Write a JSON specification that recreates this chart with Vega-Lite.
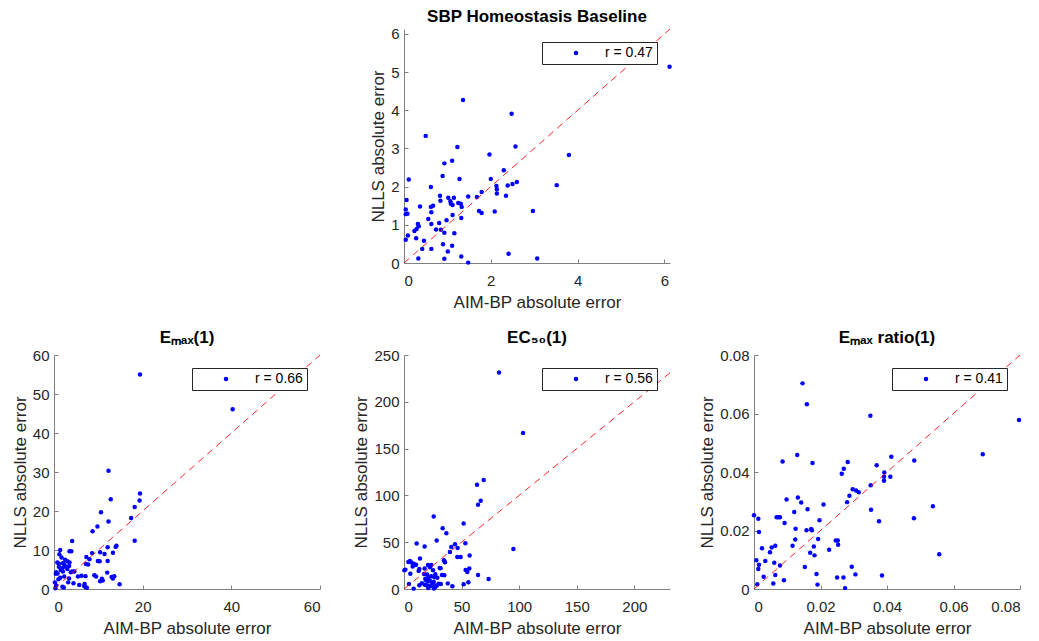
{
  "$schema": "https://vega.github.io/schema/vega-lite/v6.json",
  "background": "white",
  "padding": {"left": 11, "top": 7, "right": 5, "bottom": 5},
  "datasets": {
    "top": [
      {"a":6.12,"n":5.14},{"a":1.36,"n":4.27},{"a":2.48,"n":3.91},{"a":0.50,"n":3.33},{"a":2.57,"n":3.05},{"a":1.23,"n":3.04},{"a":3.80,"n":2.83},{"a":1.97,"n":2.84},{"a":1.11,"n":2.68},{"a":0.93,"n":2.61},
      {"a":2.30,"n":2.43},{"a":0.89,"n":2.28},{"a":0.11,"n":2.19},{"a":1.28,"n":2.20},{"a":2.00,"n":2.20},{"a":2.60,"n":2.12},{"a":2.50,"n":2.07},{"a":2.39,"n":2.03},{"a":3.52,"n":2.04},{"a":2.13,"n":2.02},
      {"a":0.62,"n":1.99},{"a":2.14,"n":1.93},{"a":2.14,"n":1.82},{"a":1.79,"n":1.86},{"a":2.35,"n":1.76},{"a":0.83,"n":1.76},{"a":1.02,"n":1.71},{"a":1.15,"n":1.71},{"a":1.48,"n":1.74},{"a":1.68,"n":1.73},
      {"a":0.06,"n":1.65},{"a":0.84,"n":1.63},{"a":1.07,"n":1.62},{"a":1.25,"n":1.57},{"a":1.08,"n":1.55},{"a":1.12,"n":1.52},{"a":1.31,"n":1.55},{"a":0.67,"n":1.50},{"a":0.62,"n":1.47},{"a":0.37,"n":1.48},
      {"a":1.33,"n":1.47},{"a":0.04,"n":1.40},{"a":0.63,"n":1.33},{"a":1.73,"n":1.36},{"a":2.97,"n":1.36},{"a":2.09,"n":1.35},{"a":1.79,"n":1.31},{"a":0.08,"n":1.29},{"a":0.04,"n":1.28},{"a":1.12,"n":1.26},
      {"a":1.32,"n":1.18},{"a":0.56,"n":1.15},{"a":0.98,"n":1.12},{"a":0.81,"n":1.05},{"a":0.63,"n":1.02},{"a":0.32,"n":1.02},{"a":0.34,"n":0.96},{"a":0.29,"n":0.89},{"a":0.74,"n":0.88},{"a":0.85,"n":0.87},
      {"a":0.24,"n":0.84},{"a":1.16,"n":0.78},{"a":0.93,"n":0.79},{"a":0.09,"n":0.72},{"a":0.28,"n":0.65},{"a":0.04,"n":0.61},{"a":0.46,"n":0.58},{"a":0.90,"n":0.49},{"a":1.11,"n":0.45},{"a":0.42,"n":0.37},
      {"a":0.63,"n":0.37},{"a":1.01,"n":0.30},{"a":2.41,"n":0.24},{"a":1.32,"n":0.17},{"a":0.33,"n":0.12},{"a":0.93,"n":0.11},{"a":3.07,"n":0.12},{"a":1.48,"n":0.01}
    ],
    "topd": [{"d":0},{"d":6.13}],
    "emax": [
      {"a":19.4,"n":55.0},{"a":40.3,"n":46.1},{"a":12.3,"n":30.3},{"a":19.4,"n":24.5},{"a":19.3,"n":22.7},{"a":12.8,"n":23.0},{"a":18.2,"n":21.0},{"a":10.6,"n":19.7},{"a":17.4,"n":18.2},{"a":12.3,"n":17.3},
      {"a":9.8,"n":16.0},{"a":8.7,"n":14.8},{"a":18.2,"n":12.4},{"a":4.1,"n":12.3},{"a":14.1,"n":11.1},{"a":13.9,"n":10.8},{"a":12.1,"n":10.7},{"a":1.4,"n":10.0},{"a":1.2,"n":8.9},{"a":3.5,"n":9.7},
      {"a":3.9,"n":9.7},{"a":8.6,"n":9.2},{"a":10.4,"n":9.4},{"a":11.4,"n":9.0},{"a":13.3,"n":9.3},{"a":1.7,"n":8.1},{"a":7.3,"n":8.2},{"a":8.0,"n":7.6},{"a":2.5,"n":7.5},{"a":0.75,"n":6.8},
      {"a":1.1,"n":6.5},{"a":2.0,"n":6.6},{"a":3.0,"n":7.1},{"a":3.5,"n":6.8},{"a":9.9,"n":7.2},{"a":10.3,"n":7.1},{"a":12.1,"n":7.2},{"a":7.2,"n":6.4},{"a":7.7,"n":6.3},{"a":2.3,"n":6.2},
      {"a":3.4,"n":5.9},{"a":2.5,"n":5.8},{"a":1.9,"n":5.3},{"a":1.1,"n":5.7},{"a":1.5,"n":4.9},{"a":3.0,"n":5.1},{"a":2.0,"n":4.5},{"a":0.4,"n":3.9},{"a":0.8,"n":4.0},{"a":3.8,"n":4.3},
      {"a":4.1,"n":4.5},{"a":4.6,"n":4.5},{"a":1.4,"n":2.9},{"a":2.3,"n":3.2},{"a":5.4,"n":3.2},{"a":6.2,"n":3.4},{"a":7.1,"n":3.3},{"a":9.1,"n":3.5},{"a":9.5,"n":3.2},{"a":12.0,"n":4.2},
      {"a":13.0,"n":3.1},{"a":13.6,"n":3.3},{"a":13.3,"n":2.7},{"a":10.8,"n":2.6},{"a":10.4,"n":2.0},{"a":11.0,"n":2.2},{"a":3.4,"n":2.7},{"a":1.0,"n":2.5},{"a":0.2,"n":1.7},{"a":0.5,"n":0.9},
      {"a":2.2,"n":0.4},{"a":3.2,"n":1.7},{"a":4.4,"n":1.5},{"a":5.7,"n":1.0},{"a":6.9,"n":1.3},{"a":7.1,"n":0.5},{"a":7.4,"n":0.3},{"a":14.8,"n":1.2},{"a":1.9,"n":0.6},{"a":0.3,"n":0.2},
      {"a":6.8,"n":0.8},{"a":0.5,"n":4.3}
    ],
    "emaxd": [{"d":0},{"d":60}],
    "ec50": [
      {"a":82.5,"n":231.4},{"a":103.4,"n":166.8},{"a":63.4,"n":111.4},{"a":69.2,"n":116.4},{"a":66.6,"n":94.3},{"a":64.3,"n":90},{"a":25.8,"n":77.5},{"a":51.8,"n":70},{"a":33.6,"n":65},{"a":36.8,"n":59.6},
      {"a":28.4,"n":51.8},{"a":11,"n":48.6},{"a":17.9,"n":45.4},{"a":53.3,"n":48.9},{"a":44.3,"n":47.9},{"a":46.6,"n":43.9},{"a":41.1,"n":45},{"a":39.9,"n":39.6},{"a":46.3,"n":34.3},{"a":49.2,"n":34.3},
      {"a":57,"n":35.7},{"a":95,"n":42.7},{"a":34.7,"n":30.7},{"a":35.6,"n":28.6},{"a":5.2,"n":30},{"a":3.8,"n":28.9},{"a":6.4,"n":28.2},{"a":13.9,"n":32.5},{"a":8.5,"n":27},{"a":9.6,"n":25.5},
      {"a":7.5,"n":24},{"a":10.5,"n":26},{"a":1.2,"n":20.7},{"a":0.3,"n":20},{"a":13.3,"n":21.4},{"a":17.9,"n":21.8},{"a":20.8,"n":25.7},{"a":23.7,"n":25.7},{"a":22.6,"n":23.2},{"a":31,"n":22.5},
      {"a":31.8,"n":22.1},{"a":53.5,"n":20.4},{"a":56.7,"n":21.8},{"a":55,"n":18.2},{"a":5.5,"n":16.4},{"a":12.7,"n":19.3},{"a":17.4,"n":16.1},{"a":20,"n":15.4},{"a":25.2,"n":20},{"a":27.2,"n":15.7},
      {"a":33,"n":15},{"a":35,"n":14.6},{"a":21.4,"n":12.5},{"a":23.7,"n":13.6},{"a":26.3,"n":12.5},{"a":19,"n":9.5},{"a":20.5,"n":8},{"a":22.5,"n":8.8},{"a":24,"n":7},{"a":25.5,"n":6.5},
      {"a":18,"n":4.5},{"a":20,"n":3.8},{"a":22.3,"n":3},{"a":24.6,"n":3.4},{"a":27,"n":2},{"a":28.5,"n":3.6},{"a":13.3,"n":3.9},{"a":15.6,"n":6.1},{"a":4.3,"n":5.4},{"a":8.4,"n":0.4},
      {"a":30,"n":5.7},{"a":32,"n":5.4},{"a":38,"n":6},{"a":42,"n":2.9},{"a":51.8,"n":5},{"a":55.9,"n":7.1},{"a":64.3,"n":15},{"a":73.5,"n":10.7},{"a":25.8,"n":7.5},{"a":18.5,"n":11},
      {"a":29,"n":12},{"a":21,"n":1},{"a":26,"n":0.5}
    ],
    "ec50d": [{"d":0},{"d":231}],
    "ratio": [
      {"a":0.0146,"n":0.0703},{"a":0.0159,"n":0.0632},{"a":0.0350,"n":0.0592},{"a":0.0797,"n":0.0578},{"a":0.0688,"n":0.0461},{"a":0.0413,"n":0.0452},{"a":0.0482,"n":0.0439},{"a":0.0369,"n":0.0423},{"a":0.0392,"n":0.0398},{"a":0.0391,"n":0.0384},
      {"a":0.0391,"n":0.0370},{"a":0.0410,"n":0.0384},{"a":0.0351,"n":0.0355},{"a":0.0315,"n":0.0331},{"a":0.0538,"n":0.0283},{"a":0.0352,"n":0.0271},{"a":0.0376,"n":0.0232},{"a":0.0481,"n":0.0242},{"a":0.0557,"n":0.0119},{"a":0.0385,"n":0.0046},
      {"a":0.0130,"n":0.0458},{"a":0.0086,"n":0.0436},{"a":0.0176,"n":0.0431},{"a":0.0282,"n":0.0434},{"a":0.0270,"n":0.0411},{"a":0.0264,"n":0.0394},{"a":0.0297,"n":0.0341},{"a":0.0307,"n":0.0337},{"a":0.0287,"n":0.0319},{"a":0.0280,"n":0.0297},
      {"a":0.0098,"n":0.0306},{"a":0.0132,"n":0.0313},{"a":0.0142,"n":0.0296},{"a":0.0209,"n":0.0289},{"a":0.0121,"n":0.0263},{"a":0.0161,"n":0.0273},{"a":0.0,"n":0.0252},{"a":0.0013,"n":0.0240},{"a":0.0068,"n":0.0245},{"a":0.0074,"n":0.0245},
      {"a":0.0078,"n":0.0245},{"a":0.0092,"n":0.0226},{"a":0.0197,"n":0.0235},{"a":0.0015,"n":0.0195},{"a":0.0125,"n":0.0206},{"a":0.0158,"n":0.0201},{"a":0.0172,"n":0.0205},{"a":0.0174,"n":0.0201},{"a":0.0124,"n":0.0169},{"a":0.0193,"n":0.0171},
      {"a":0.0116,"n":0.0148},{"a":0.0024,"n":0.0139},{"a":0.0053,"n":0.0142},{"a":0.0064,"n":0.0148},{"a":0.0246,"n":0.0166},{"a":0.0252,"n":0.0166},{"a":0.0253,"n":0.0151},{"a":0.0180,"n":0.0145},{"a":0.0048,"n":0.0126},{"a":0.0169,"n":0.0124},
      {"a":0.0182,"n":0.0115},{"a":0.0226,"n":0.0134},{"a":0.0007,"n":0.0098},{"a":0.0034,"n":0.0096},{"a":0.0015,"n":0.0083},{"a":0.0013,"n":0.0068},{"a":0.0061,"n":0.0090},{"a":0.0078,"n":0.0080},{"a":0.0153,"n":0.0075},{"a":0.0294,"n":0.0076},
      {"a":0.0029,"n":0.0042},{"a":0.0064,"n":0.0048},{"a":0.0188,"n":0.0051},{"a":0.0305,"n":0.0050},{"a":0.0058,"n":0.0019},{"a":0.0090,"n":0.0030},{"a":0.0191,"n":0.0015},{"a":0.0250,"n":0.0039},{"a":0.0269,"n":0.0039},{"a":0.0274,"n":0.0003},
      {"a":0.0010,"n":0.0016}
    ],
    "ratiod": [{"d":0},{"d":0.08}]
  },
  "columns": 3,
  "bounds": "flush",
  "spacing": {"row": 92, "column": 84},
  "resolve": {"scale": {"color": "independent"}, "legend": {"color": "independent"}},
  "concat": [
    {"width": 266, "height": 234, "data": {"values": []}, "mark": {"type": "point", "opacity": 0}},
    {
      "title": "SBP Homeostasis Baseline",
      "width": 266, "height": 234,
      "layer": [
        {"data": {"name": "top"}, "mark": {"type": "circle", "size": 20, "opacity": 1},
         "encoding": {
           "x": {"field": "a", "type": "quantitative", "scale": {"domain": [0, 6.13], "nice": false}, "axis": {"values": [0, 2, 4, 6], "format": "d", "title": "AIM-BP absolute error"}},
           "y": {"field": "n", "type": "quantitative", "scale": {"domain": [0, 6.13], "nice": false}, "axis": {"values": [0, 1, 2, 3, 4, 5, 6], "format": "d", "tickCount": 20, "title": "NLLS absolute error"}},
           "color": {"datum": "r = 0.47", "type": "nominal", "scale": {"range": ["#0000ff"]}, "legend": {"title": null}}
         }},
        {"data": {"name": "topd"}, "mark": {"type": "line", "color": "#ff0000", "strokeDash": [7, 5], "strokeWidth": 1, "opacity": 0.85},
         "encoding": {"x": {"field": "d", "type": "quantitative"}, "y": {"field": "d", "type": "quantitative"}}}
      ]
    },
    {"width": 266, "height": 234, "data": {"values": []}, "mark": {"type": "point", "opacity": 0}},
    {
      "title": "Eₘₐₓ(1)",
      "width": 266, "height": 234,
      "layer": [
        {"data": {"name": "emax"}, "mark": {"type": "circle", "size": 20, "opacity": 1},
         "encoding": {
           "x": {"field": "a", "type": "quantitative", "scale": {"domain": [0, 60], "nice": false}, "axis": {"values": [0, 20, 40, 60], "format": "d", "title": "AIM-BP absolute error"}},
           "y": {"field": "n", "type": "quantitative", "scale": {"domain": [0, 60], "nice": false}, "axis": {"values": [0, 10, 20, 30, 40, 50, 60], "format": "d", "tickCount": 20, "title": "NLLS absolute error"}},
           "color": {"datum": "r = 0.66", "type": "nominal", "scale": {"range": ["#0000ff"]}, "legend": {"title": null}}
         }},
        {"data": {"name": "emaxd"}, "mark": {"type": "line", "color": "#ff0000", "strokeDash": [7, 5], "strokeWidth": 1, "opacity": 0.85},
         "encoding": {"x": {"field": "d", "type": "quantitative"}, "y": {"field": "d", "type": "quantitative"}}}
      ]
    },
    {
      "title": "EC₅₀(1)",
      "width": 266, "height": 234,
      "layer": [
        {"data": {"name": "ec50"}, "mark": {"type": "circle", "size": 20, "opacity": 1},
         "encoding": {
           "x": {"field": "a", "type": "quantitative", "scale": {"domain": [0, 231], "nice": false}, "axis": {"values": [0, 50, 100, 150, 200], "format": "d", "title": "AIM-BP absolute error"}},
           "y": {"field": "n", "type": "quantitative", "scale": {"domain": [0, 250], "nice": false}, "axis": {"values": [0, 50, 100, 150, 200, 250], "format": "d", "tickCount": 20, "title": "NLLS absolute error"}},
           "color": {"datum": "r = 0.56", "type": "nominal", "scale": {"range": ["#0000ff"]}, "legend": {"title": null}}
         }},
        {"data": {"name": "ec50d"}, "mark": {"type": "line", "color": "#ff0000", "strokeDash": [7, 5], "strokeWidth": 1, "opacity": 0.85},
         "encoding": {"x": {"field": "d", "type": "quantitative"}, "y": {"field": "d", "type": "quantitative"}}}
      ]
    },
    {
      "title": "Eₘₐₓ ratio(1)",
      "width": 266, "height": 234,
      "layer": [
        {"data": {"name": "ratio"}, "mark": {"type": "circle", "size": 20, "opacity": 1},
         "encoding": {
           "x": {"field": "a", "type": "quantitative", "scale": {"domain": [0, 0.08], "nice": false}, "axis": {"values": [0, 0.02, 0.04, 0.06, 0.08], "format": "~g", "title": "AIM-BP absolute error"}},
           "y": {"field": "n", "type": "quantitative", "scale": {"domain": [0, 0.08], "nice": false}, "axis": {"values": [0, 0.02, 0.04, 0.06, 0.08], "tickCount": 20, "format": "~g", "title": "NLLS absolute error"}},
           "color": {"datum": "r = 0.41", "type": "nominal", "scale": {"range": ["#0000ff"]}, "legend": {"title": null}}
         }},
        {"data": {"name": "ratiod"}, "mark": {"type": "line", "color": "#ff0000", "strokeDash": [7, 5], "strokeWidth": 1, "opacity": 0.85},
         "encoding": {"x": {"field": "d", "type": "quantitative"}, "y": {"field": "d", "type": "quantitative"}}}
      ]
    }
  ],
  "config": {
    "view": {"stroke": null},
    "font": "Liberation Sans",
    "title": {"fontSize": 17, "font": "Liberation Sans", "fontWeight": "bold", "color": "#000000", "offset": 1, "frame": "group", "anchor": "middle"},
    "axis": {
      "grid": false,
      "labelOverlap": false,
      "domainColor": "#808080",
      "tickColor": "#808080",
      "tickSize": -4,
      "labelFont": "Liberation Sans",
      "labelFontSize": 15,
      "labelColor": "#262626",
      "titleFont": "Liberation Sans",
      "titleFontSize": 17,
      "titleFontWeight": "normal",
      "titleColor": "#262626"
    },
    "axisX": {"labelPadding": 14, "titlePadding": 6},
    "axisY": {"labelPadding": 9, "titlePadding": 3},
    "legend": {
      "orient": "top-right",
      "offset": 13,
      "strokeColor": "#262626",
      "fillColor": "white",
      "padding": 4,
      "cornerRadius": 0,
      "labelFont": "Liberation Sans",
      "labelFontSize": 14,
      "labelColor": "#000000",
      "symbolType": "circle",
      "symbolSize": 20,
      "symbolStrokeWidth": 0,
      "symbolOffset": 23,
      "labelOffset": 22
    }
  }
}
